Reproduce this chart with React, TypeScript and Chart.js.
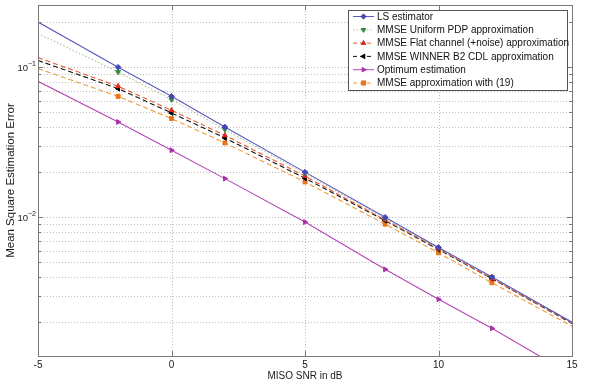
import React, { useEffect, useRef } from "react";
import { Chart, registerables } from "chart.js";

Chart.register(...registerables);

const snrDb = [-5, -2, 0, 2, 5, 8, 10, 12, 15];
const lsEstimator = [0.2, 0.1, 0.064, 0.04, 0.02, 0.01, 0.0063, 0.004, 0.002];
const mmseUniformPdp = [0.168, 0.093, 0.061, 0.0384, 0.0196, 0.0098, 0.0062, 0.004, 0.002];
const mmseFlatChannel = [0.116, 0.0747, 0.0517, 0.0352, 0.0188, 0.0096, 0.0062, 0.0039, 0.00198];
const mmseWinnerB2 = [0.111, 0.0721, 0.0496, 0.0338, 0.0182, 0.0095, 0.0061, 0.0039, 0.00196];
const optimumEstimation = [0.0806, 0.0432, 0.028, 0.0181, 0.0093, 0.0045, 0.00284, 0.00182, 0.00089];
const mmseApprox19 = [0.098, 0.064, 0.0455, 0.0313, 0.0172, 0.009, 0.0058, 0.00366, 0.00188];

const xTicks = [-5, 0, 5, 10, 15];
const xTickLabels = ["-5", "0", "5", "10", "15"];
const yDecades = [0.001, 0.01, 0.1];
const yMantissas = [1, 2, 3, 4, 5, 6, 7, 8, 9];
const yMajor = [0.01, 0.1];
const yMajorExp = ["\u22122", "\u22121"];
const Y_MIN = 0.00119;
const Y_MAX = 0.26;

const yGridValues: number[] = [];
yDecades.forEach((d) =>
  yMantissas.forEach((m) => {
    const v = +(m * d).toPrecision(3);
    if (v > Y_MIN && v < Y_MAX) yGridValues.push(v);
  })
);

type Series = {
  label: string;
  data: number[];
  color: string;
  marker: string;
  markerColor: string;
  rotation: number;
  dash: number[];
};

const series: Series[] = [
  { label: "LS estimator", data: lsEstimator, color: "#5a5ac0", marker: "rectRot", markerColor: "#4646b4", rotation: 0, dash: [] },
  { label: "MMSE Uniform PDP approximation", data: mmseUniformPdp, color: "#b4c096", marker: "triangle", markerColor: "#2e8b3e", rotation: 180, dash: [1.5, 2] },
  { label: "MMSE Flat channel (+noise) approximation", data: mmseFlatChannel, color: "#ea5a30", marker: "triangle", markerColor: "#e2281c", rotation: 0, dash: [5, 3] },
  { label: "MMSE WINNER B2 CDL approximation", data: mmseWinnerB2, color: "#111111", marker: "triangle", markerColor: "#000000", rotation: 270, dash: [5, 3] },
  { label: "Optimum estimation", data: optimumEstimation, color: "#b645b6", marker: "triangle", markerColor: "#a830a8", rotation: 90, dash: [] },
  { label: "MMSE approximation with (19)", data: mmseApprox19, color: "#f09a3a", marker: "rect", markerColor: "#e8761e", rotation: 0, dash: [5, 3] },
];

const FONT = "'Liberation Sans', Arial, Helvetica, sans-serif";

function drawMarker(ctx: CanvasRenderingContext2D, style: string, rotation: number, r: number, cx: number, cy: number) {
  ctx.beginPath();
  if (style === "rect") {
    ctx.rect(cx - r * 0.8, cy - r * 0.8, r * 1.6, r * 1.6);
  } else if (style === "rectRot") {
    ctx.moveTo(cx, cy - r);
    ctx.lineTo(cx + r, cy);
    ctx.lineTo(cx, cy + r);
    ctx.lineTo(cx - r, cy);
    ctx.closePath();
  } else {
    const rad = (rotation * Math.PI) / 180;
    for (let k = 0; k < 3; k++) {
      const ang = rad + (k * 2 * Math.PI) / 3;
      const px = cx + Math.sin(ang) * r;
      const py = cy - Math.cos(ang) * r;
      if (k === 0) ctx.moveTo(px, py);
      else ctx.lineTo(px, py);
    }
    ctx.closePath();
  }
  ctx.fill();
  ctx.stroke();
}

const decorPlugin = {
  id: "matlabDecor",
  beforeDatasetsDraw(chart: any) {
    const { ctx, chartArea: a, scales } = chart;
    const x = scales.x;
    const y = scales.y;
    ctx.save();
    ctx.strokeStyle = "#bdbdbd";
    ctx.lineWidth = 1;
    ctx.setLineDash([1, 2]);
    yGridValues.forEach((v) => {
      const py = Math.round(y.getPixelForValue(v)) + 0.5;
      ctx.beginPath();
      ctx.moveTo(a.left, py);
      ctx.lineTo(a.right, py);
      ctx.stroke();
    });
    xTicks.forEach((v) => {
      const px = Math.round(x.getPixelForValue(v)) + 0.5;
      ctx.beginPath();
      ctx.moveTo(px, a.top);
      ctx.lineTo(px, a.bottom);
      ctx.stroke();
    });
    ctx.restore();
  },
  afterDatasetsDraw(chart: any) {
    const { ctx, chartArea: a, scales } = chart;
    const x = scales.x;
    const y = scales.y;
    ctx.save();
    ctx.setLineDash([]);
    ctx.strokeStyle = "#7a7a7a";
    ctx.lineWidth = 1;
    yGridValues.forEach((v) => {
      const py = Math.round(y.getPixelForValue(v)) + 0.5;
      const len = yMajor.includes(v) ? 5 : 3;
      ctx.beginPath();
      ctx.moveTo(a.left, py);
      ctx.lineTo(a.left + len, py);
      ctx.moveTo(a.right, py);
      ctx.lineTo(a.right - len, py);
      ctx.stroke();
    });
    xTicks.forEach((v) => {
      const px = Math.round(x.getPixelForValue(v)) + 0.5;
      ctx.beginPath();
      ctx.moveTo(px, a.bottom);
      ctx.lineTo(px, a.bottom - 5);
      ctx.moveTo(px, a.top);
      ctx.lineTo(px, a.top + 5);
      ctx.stroke();
    });
    ctx.strokeRect(Math.round(a.left) + 0.5, Math.round(a.top) + 0.5, Math.round(a.right - a.left), Math.round(a.bottom - a.top));

    ctx.fillStyle = "#1a1a1a";
    ctx.font = `10px ${FONT}`;
    ctx.textAlign = "center";
    ctx.textBaseline = "middle";
    xTicks.forEach((v, i) => {
      ctx.fillText(xTickLabels[i], x.getPixelForValue(v), 365);
    });
    yMajor.forEach((v, i) => {
      const py = y.getPixelForValue(v);
      ctx.font = `9.5px ${FONT}`;
      ctx.textAlign = "right";
      ctx.textBaseline = "middle";
      ctx.fillText("10", 28, py + 1);
      ctx.font = `7px ${FONT}`;
      ctx.textAlign = "left";
      ctx.fillText(yMajorExp[i], 28, py - 3);
    });
    ctx.font = `10px ${FONT}`;
    ctx.textAlign = "center";
    ctx.textBaseline = "middle";
    ctx.fillText("MISO SNR in dB", (a.left + a.right) / 2, 376);
    ctx.save();
    ctx.translate(11, (a.top + a.bottom) / 2);
    ctx.rotate(-Math.PI / 2);
    ctx.font = `11.5px ${FONT}`;
    ctx.fillText("Mean Square Estimation Error", 0, 0);
    ctx.restore();

    const lx = 348, ly = 10, lw = 219, lh = 80;
    ctx.fillStyle = "#ffffff";
    ctx.fillRect(lx, ly, lw, lh);
    ctx.strokeStyle = "#555555";
    ctx.strokeRect(lx + 0.5, ly + 0.5, lw, lh);
    series.forEach((s, i) => {
      const cy = 16.5 + i * 13.3;
      ctx.save();
      ctx.strokeStyle = s.color;
      ctx.lineWidth = 1;
      if (s.dash.length === 0) ctx.setLineDash([]);
      else if (s.dash[0] < 2) ctx.setLineDash([1.5, 2]);
      else ctx.setLineDash([4, 3]);
      ctx.beginPath();
      ctx.moveTo(353, cy);
      ctx.lineTo(374, cy);
      ctx.stroke();
      ctx.restore();
      ctx.save();
      ctx.fillStyle = s.markerColor;
      ctx.strokeStyle = s.markerColor;
      ctx.setLineDash([]);
      ctx.lineWidth = 1;
      drawMarker(ctx, s.marker, s.rotation, 2.6, 363.5, cy);
      ctx.restore();
      ctx.fillStyle = "#111111";
      ctx.font = `10px ${FONT}`;
      ctx.textAlign = "left";
      ctx.textBaseline = "middle";
      ctx.fillText(s.label, 377, cy + 0.5);
    });
    ctx.restore();
  },
};

export default function App() {
  const canvasRef = useRef<HTMLCanvasElement | null>(null);

  useEffect(() => {
    document.body.style.margin = "0";
    const canvas = canvasRef.current;
    if (!canvas) return;
    const chart = new Chart(canvas, {
      type: "line",
      data: {
        datasets: series.map((s) => ({
          label: s.label,
          data: s.data.map((v, i) => ({ x: snrDb[i], y: v })),
          borderColor: s.color,
          backgroundColor: s.markerColor,
          pointBorderColor: s.markerColor,
          pointBackgroundColor: s.markerColor,
          borderWidth: 1.1,
          borderDash: s.dash,
          pointStyle: s.marker as any,
          pointRotation: s.rotation,
          pointRadius: (c: any) => (c.dataIndex === 0 || c.dataIndex === snrDb.length - 1 ? 0 : 2.8),
          pointBorderWidth: 1,
          tension: 0,
          fill: false,
        })),
      },
      options: {
        animation: false,
        responsive: true,
        maintainAspectRatio: false,
        layout: { padding: { top: 5, right: 28, left: 0, bottom: 0 } },
        plugins: { legend: { display: false }, tooltip: { enabled: false } },
        scales: {
          x: {
            type: "linear",
            min: -5,
            max: 15,
            grid: { display: false },
            border: { display: false },
            ticks: { display: false },
            afterFit: (s: any) => {
              s.height = 30;
            },
          },
          y: {
            type: "logarithmic",
            min: Y_MIN,
            max: Y_MAX,
            grid: { display: false },
            border: { display: false },
            ticks: { display: false },
            afterFit: (s: any) => {
              s.width = 38;
            },
          },
        },
      },
      plugins: [decorPlugin],
    });
    return () => chart.destroy();
  }, []);

  return (
    <div style={{ width: 600, height: 386, position: "relative" }}>
      <canvas ref={canvasRef} />
    </div>
  );
}
